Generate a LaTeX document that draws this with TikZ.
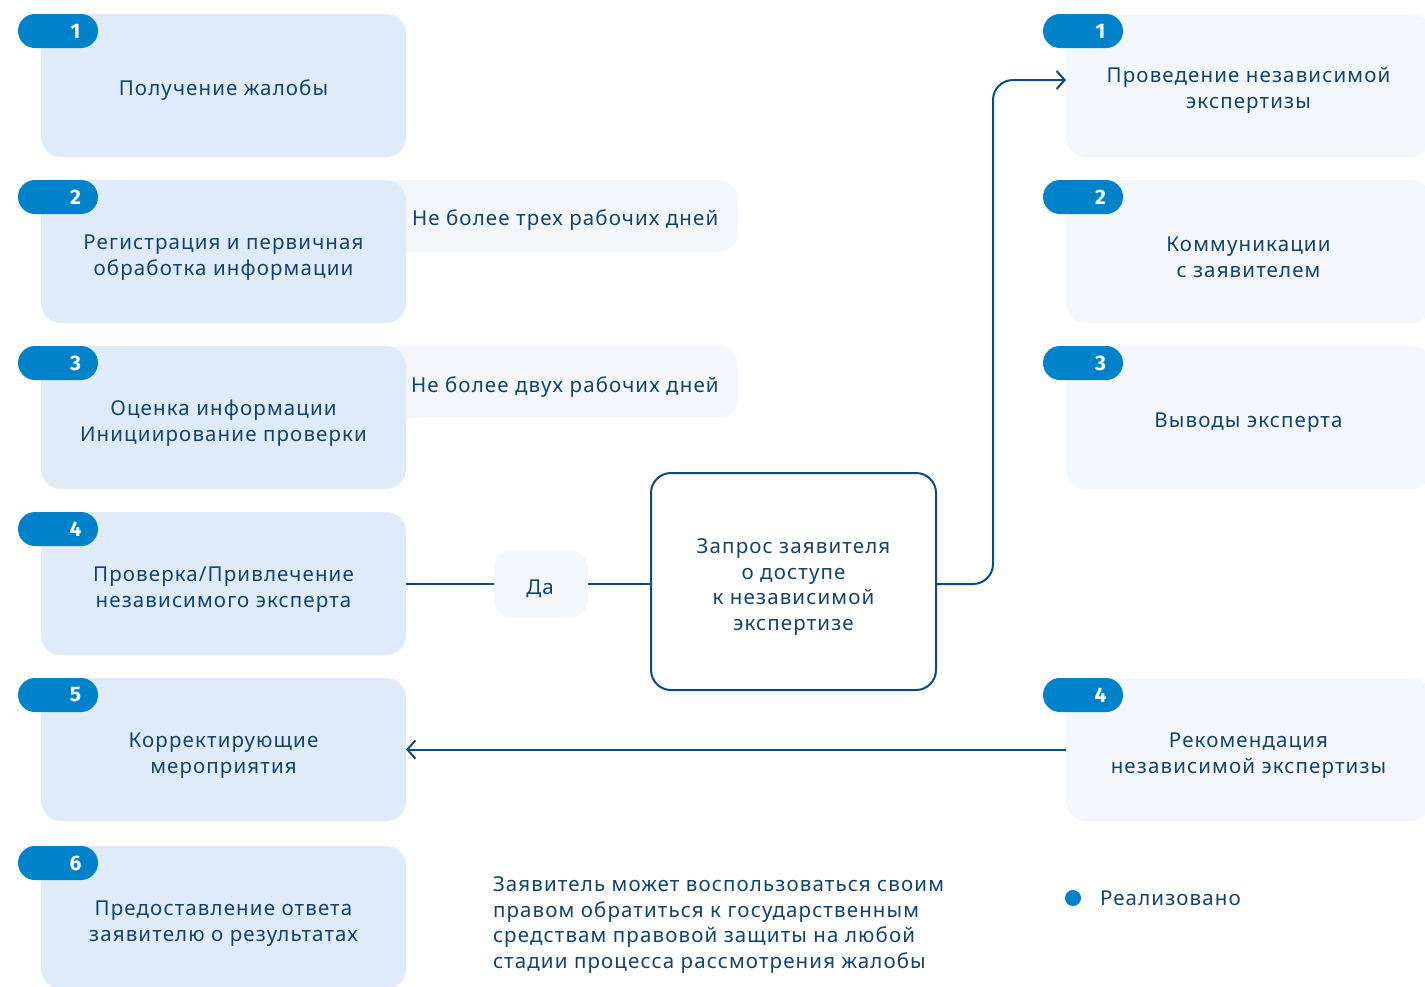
\documentclass[tikz,border=0pt]{standalone}
\usepackage{fontspec}
\setmainfont{Noto Sans}[LetterSpace=5.5]
\newfontfamily\badgefont{Fira Sans}
\usetikzlibrary{arrows.meta,calc}
\definecolor{txtblue}{HTML}{12436F}
\definecolor{badgeblue}{HTML}{0082CA}
\definecolor{leftfill}{HTML}{DFEBF8}
\definecolor{lightfill}{HTML}{F3F7FC}
\definecolor{lineblue}{HTML}{0E4A7E}
\begin{document}
\begin{tikzpicture}[x=1pt,y=-1pt,
  every node/.style={inner sep=0pt, outer sep=0pt, text=txtblue, font=\fontsize{20.5}{25.8}\selectfont},
  leftbox/.style={fill=leftfill, rounded corners=20pt, minimum width=365pt, minimum height=143pt, anchor=north west},
  rightbox/.style={fill=lightfill, rounded corners=20pt, minimum width=365pt, minimum height=143pt, anchor=north west},
  boxtext/.style={align=center},
  notebox/.style={fill=lightfill, rounded corners=20pt, minimum width=358pt, minimum height=72pt, anchor=north west},
  badge/.style={fill=badgeblue, rounded corners=17pt, minimum width=80pt, minimum height=34pt, anchor=north west, text=white, font=\badgefont\fontsize{21}{24}\selectfont\bfseries},
  conn/.style={draw=lineblue, line width=2pt},
  tip/.style={-{Straight Barb[length=8pt,width=18pt,line width=2pt]}}
]
\useasboundingbox[fill=white] (0,0) rectangle (1425,986);

% note boxes (behind left boxes)
\node[notebox] (n1) at (380,180) {};
\node[anchor=west] (n1t) at (412,220) {Не более трех рабочих дней};
\node[notebox] (n2) at (380,346) {};
\node[anchor=west] (n2t) at (411,387) {Не более двух рабочих дней};

% left boxes
\node[leftbox] (l1) at (41,14) {};
\node[leftbox] (l2) at (41,180) {};
\node[leftbox] (l3) at (41,346) {};
\node[leftbox] (l4) at (41,512) {};
\node[leftbox] (l5) at (41,678) {};
\node[leftbox] (l6) at (41,846) {};
\node[boxtext] (l1t) at ([yshift=-4.5pt]l1.center) {Получение жалобы};
\node[boxtext] (l2t) at ([yshift=-6pt]l2.center) {Регистрация и первичная\\обработка информации};
\node[boxtext] (l3t) at ([yshift=-6pt]l3.center) {Оценка информации\\Инициирование проверки};
\node[boxtext] (l4t) at ([yshift=-6pt]l4.center) {Проверка/Привлечение\\независимого эксперта};
\node[boxtext] (l5t) at ([yshift=-6pt]l5.center) {Корректирующие\\мероприятия};
\node[boxtext] (l6t) at ([yshift=-6pt]l6.center) {Предоставление ответа\\заявителю о результатах};

% left badges
\foreach \n/\y in {1/14,2/180,3/346,4/512,5/678,6/846}{
  \node[badge] (lb\n) at (18,\y) {\hspace*{35pt}\n};
}

% right boxes
\node[rightbox] (r1) at (1066,14) {};
\node[rightbox] (r2) at (1066,180) {};
\node[rightbox] (r3) at (1066,346) {};
\node[rightbox] (r4) at (1066,678) {};
\node[boxtext] (r1t) at ([yshift=-4.5pt]r1.center) {Проведение независимой\\экспертизы};
\node[boxtext] (r2t) at ([yshift=-6pt]r2.center) {Коммуникации\\с заявителем};
\node[boxtext] (r3t) at ([yshift=-5pt]r3.center) {Выводы эксперта};
\node[boxtext] (r4t) at ([yshift=-6pt]r4.center) {Рекомендация\\независимой экспертизы};

\foreach \n/\y in {1/14,2/180,3/346,4/678}{
  \node[badge] (rb\n) at (1043,\y) {\hspace*{35pt}\n};
}

% center
\node[fill=lightfill, rounded corners=18pt, minimum width=94pt, minimum height=67pt] (da) at (541,584) {};
\node (dat) at (540,589) {Да};
\node[draw=lineblue, line width=2pt, fill=white, rounded corners=20pt, minimum width=285pt, minimum height=217pt] (q) at (793.5,581.5) {};
\node[align=center] (qt) at (793.5,587) {Запрос заявителя\\о доступе\\к независимой\\экспертизе};

% connectors
\draw[conn] (l4.east |- da.west) -- (da.west);
\draw[conn] (da.east) -- (da.east -| q.west);
\draw[conn, tip, rounded corners=20pt] (q.east |- da.east) -- ++(57,0) |- ([yshift=5.5pt]r1.west);
\draw[conn, tip] (r4.west) -- (l5.east);

% footnote
\node[anchor=north west, align=left, font=\fontsize{20.5}{25.4}\selectfont] (fn) at (493,877) {Заявитель может воспользоваться своим\\правом обратиться к государственным\\средствам правовой защиты на любой\\стадии процесса рассмотрения жалобы};

% legend
\node[circle, fill=badgeblue, minimum size=16pt] (dot) at (1073,898) {};
\node[anchor=west] (leg) at (1100,898) {Реализовано};
\end{tikzpicture}
\end{document}
